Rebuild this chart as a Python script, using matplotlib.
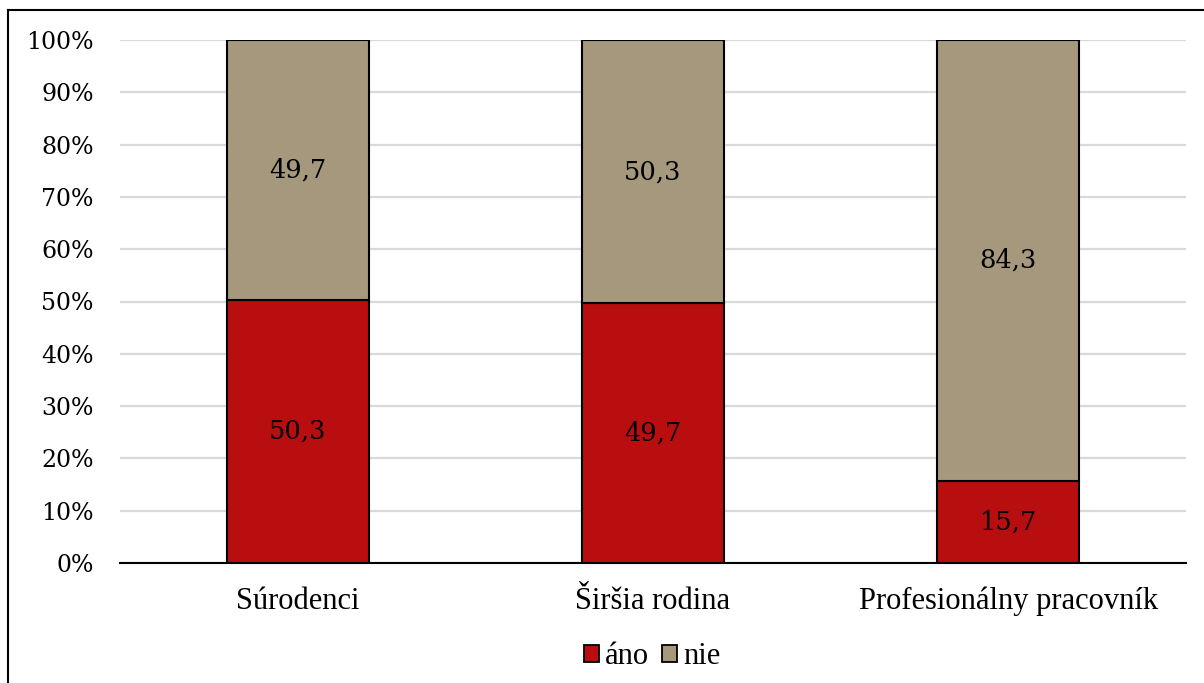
import matplotlib
matplotlib.use("Agg")
import matplotlib.pyplot as plt
from matplotlib.lines import Line2D
from matplotlib.patches import Patch
import numpy as np

categories = ["Súrodenci", "Širšia rodina", "Profesionálny pracovník"]
ano = [50.3, 49.7, 15.7]
nie = [49.7, 50.3, 84.3]
series_names = ["áno", "nie"]
yticks = [0, 10, 20, 30, 40, 50, 60, 70, 80, 90, 100]

RED = "#B90E10"
TAN = "#A5987C"
NUM_FONT = "DejaVu Serif"
TXT_FONT = "Liberation Serif"

fig = plt.figure(figsize=(12.04, 6.83), dpi=100)
ax = fig.add_axes([120 / 1204, 1 - 563 / 683, (1186 - 120) / 1204, (563 - 40) / 683])

x = np.arange(len(categories))
width = 0.4
ax.bar(x, ano, width, color=RED, edgecolor="black", linewidth=1.5, zorder=3)
ax.bar(x, nie, width, bottom=ano, color=TAN, edgecolor="black", linewidth=1.5, zorder=3)

for xi, a, n in zip(x, ano, nie):
    ax.text(xi, a / 2, f"{a:.1f}".replace(".", ","), ha="center", va="center",
            fontsize=18.5, family=NUM_FONT, zorder=4)
    ax.text(xi, a + n / 2, f"{n:.1f}".replace(".", ","), ha="center", va="center",
            fontsize=18.5, family=NUM_FONT, zorder=4)

ax.set_xlim(-0.5, len(categories) - 0.5)
ax.set_ylim(0, 100)
ax.set_yticks(yticks)
ax.set_yticklabels([f"{t}%" for t in yticks], family=NUM_FONT, fontsize=17)
ax.set_xticks(x)
ax.set_xticklabels(categories, family=TXT_FONT, fontsize=22)
ax.tick_params(axis="both", length=0)
ax.tick_params(axis="y", pad=19)
ax.tick_params(axis="x", pad=17)
ax.grid(axis="y", color="#D9D9D9", linewidth=1.6, zorder=0)
for side in ["top", "right", "left"]:
    ax.spines[side].set_visible(False)
ax.spines["bottom"].set_linewidth(1.5)
ax.spines["bottom"].set_zorder(5)

handles = [Patch(facecolor=RED, edgecolor="black", linewidth=1.3),
           Patch(facecolor=TAN, edgecolor="black", linewidth=1.3)]
fig.legend(handles, series_names, loc="center", bbox_to_anchor=(652 / 1204, 1 - 657 / 683),
           ncol=2, frameon=False, prop={"family": TXT_FONT, "size": 22},
           handlelength=0.5, handleheight=0.5, handletextpad=0.2, columnspacing=0.4)

# outer chart frame
fig.add_artist(Line2D([8 / 1204, 8 / 1204], [0, 1 - 10 / 683], color="black", linewidth=1.5))
fig.add_artist(Line2D([8 / 1204, 1], [1 - 10 / 683, 1 - 10 / 683], color="black", linewidth=1.5))

fig.savefig("out.png", dpi=100)
